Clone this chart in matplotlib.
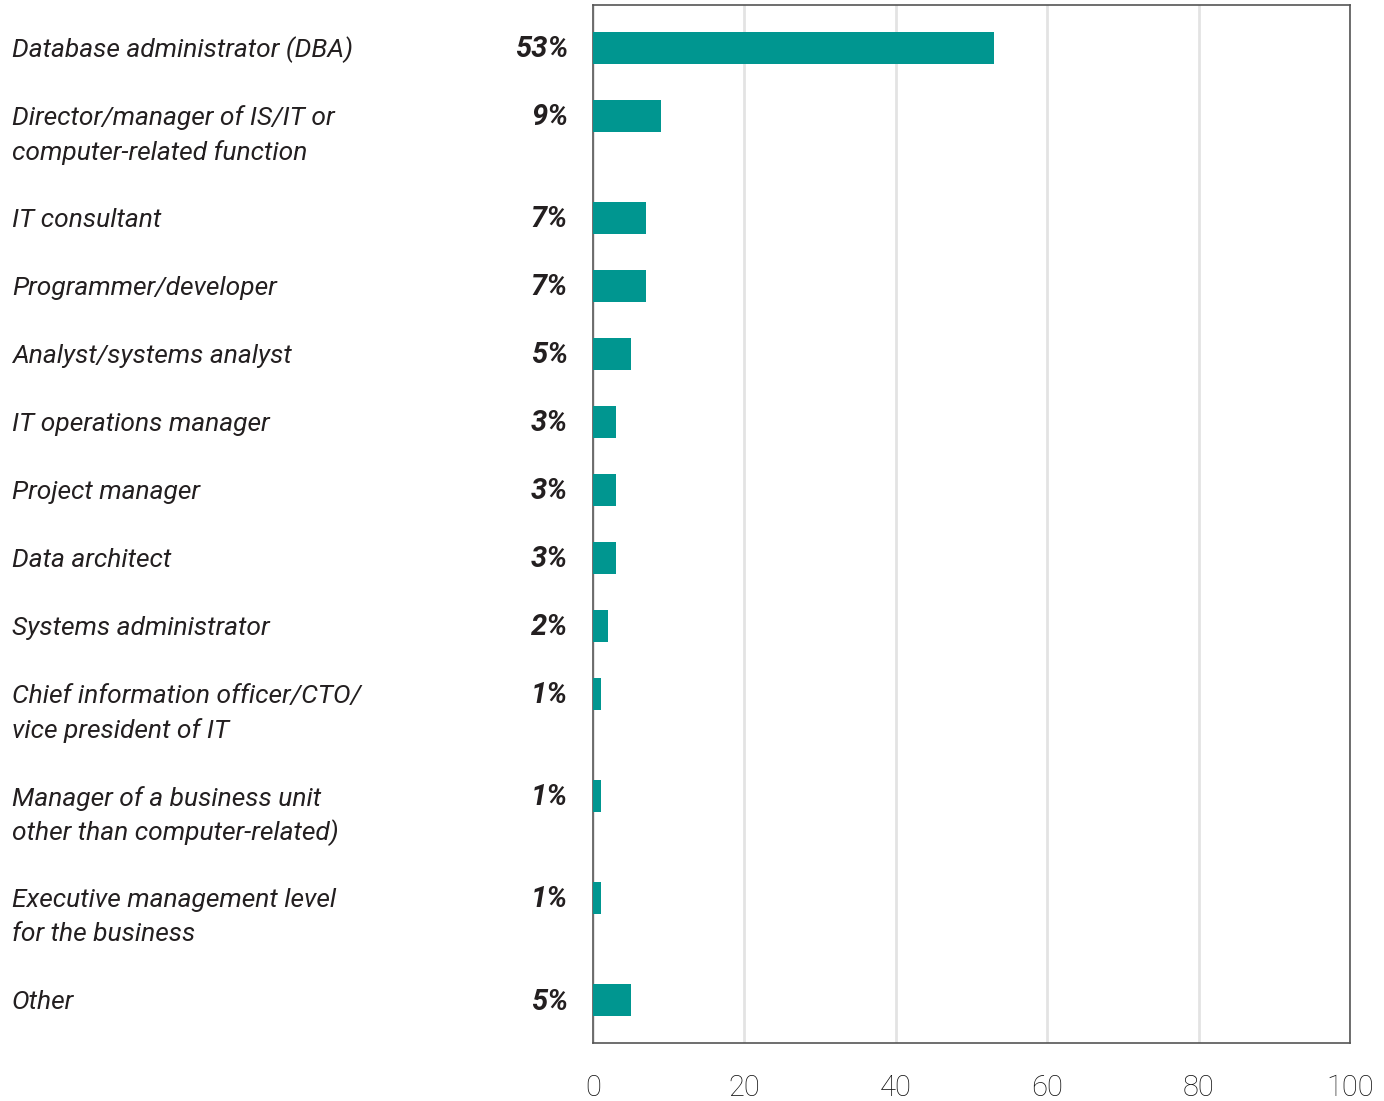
import matplotlib
matplotlib.use('Agg')
import matplotlib.pyplot as plt
from matplotlib.transforms import blended_transform_factory

# survey: job titles of respondents
roles = [
    'Database administrator (DBA)',
    'Director/manager of IS/IT or\ncomputer-related function',
    'IT consultant',
    'Programmer/developer',
    'Analyst/systems analyst',
    'IT operations manager',
    'Project manager',
    'Data architect',
    'Systems administrator',
    'Chief information officer/CTO/\nvice president of IT',
    'Manager of a business unit\nother than computer-related)',
    'Executive management level\nfor the business',
    'Other',
]
shares = [53, 9, 7, 7, 5, 3, 3, 3, 2, 1, 1, 1, 5]
ticks = [0, 20, 40, 60, 80, 100]

TEAL = '#009690'
TEXT = '#231f20'
FONT = ['Roboto', 'DejaVu Sans']

# row positions: two-line labels take half a row more
pos = []
y = 0.0
for r in roles:
    pos.append(y)
    y += 1 + 0.5 * r.count('\n')

fig = plt.figure(figsize=(13.84, 11.01), dpi=100)
ax = fig.add_axes([593 / 1384, 1 - 1043 / 1101, 757 / 1384, 1038 / 1101])

ax.barh(pos, shares, height=0.47, color=TEAL, zorder=3)
ax.set_xlim(0, 100)
ax.set_ylim(14.63, -0.632)

ax.set_xticks(ticks)
ax.set_xticklabels([str(t) for t in ticks], family=FONT, weight='light',
                   fontsize=21, color='#111111')
ax.tick_params(axis='x', length=0, pad=22)
ax.set_yticks([])
ax.grid(axis='x', color='#e3e3e3', linewidth=2, zorder=0)
for s in ax.spines.values():
    s.set_color('#555555')
    s.set_linewidth(1.2)

tr = blended_transform_factory(fig.transFigure, ax.transData)
for p, r, v in zip(pos, roles, shares):
    for i, line in enumerate(r.split('\n')):
        fig.text(12 / 1384, p + 0.5 * i + 0.03, line, transform=tr,
                 ha='left', va='center', family=FONT, style='italic',
                 fontsize=19, color=TEXT)
    fig.text(568 / 1384, p + 0.02, f'{v}%', transform=tr, ha='right',
             va='center', family=FONT, style='italic', weight='bold',
             fontsize=21, color=TEXT)

fig.savefig('out.png', dpi=100)
